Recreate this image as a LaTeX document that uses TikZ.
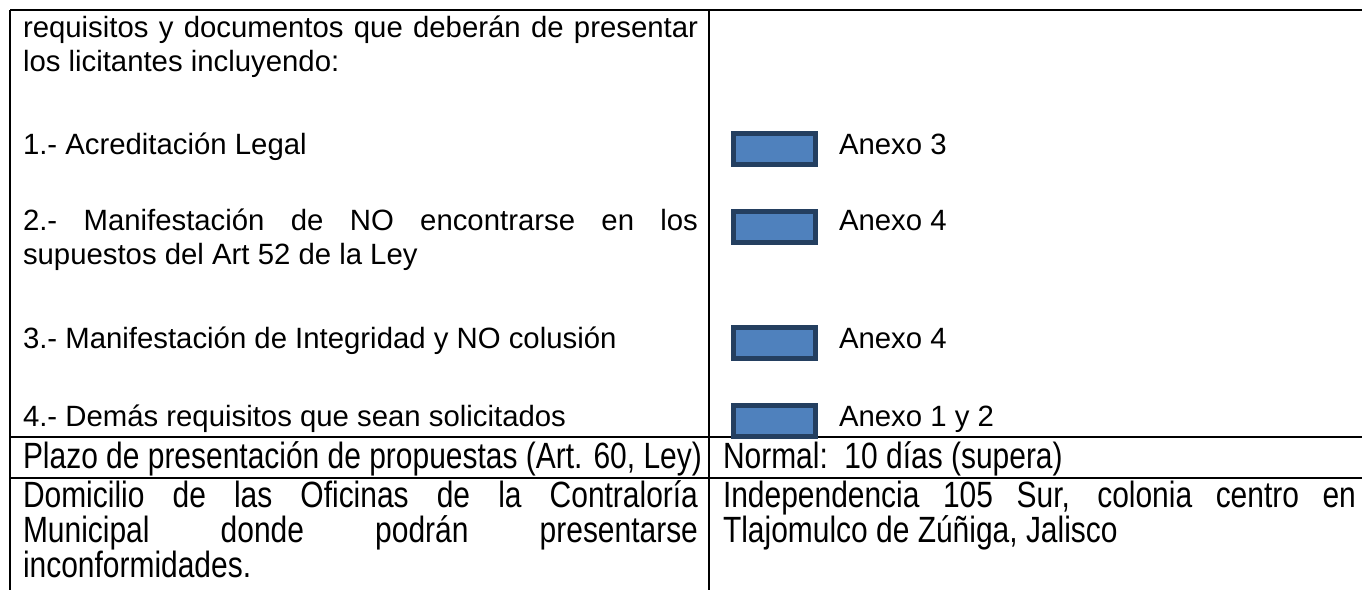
\documentclass[tikz,border=0pt]{standalone}
\usepackage{fontspec}
\setmainfont{Liberation Sans}
\newfontfamily\narrowfont[FakeStretch=0.82]{Liberation Sans}
\definecolor{annexfill}{HTML}{4F81BD}
\definecolor{annexline}{HTML}{243F60}
\tikzset{every picture/.style={line width=1.5pt}}
\tikzset{
  celltext/.style={anchor=base west,inner sep=0pt,font=\fontsize{22}{26}\selectfont},
  narrowtext/.style={anchor=base west,inner sep=0pt,font=\narrowfont\fontsize{27.4}{32}\selectfont},
  annexbox/.style={draw=annexline,fill=annexfill,line width=3.75pt,inner sep=0pt,
    minimum width=61.5pt,minimum height=23.25pt,anchor=north west}
}
\newcommand{\leftjust}[1]{\makebox[506.25pt][s]{#1}}
\newcommand{\rightjust}[1]{\makebox[474.75pt][s]{#1}}

\begin{document}
\begin{tikzpicture}[x=0.75pt,y=0.75pt,yscale=-1,xscale=1]
\useasboundingbox (0,0) rectangle (1362,590);

%Straight Lines
\draw    (10,10) -- (1362,10) ;
\draw    (10,10) -- (10,590) ;
\draw    (709,10) -- (709,590) ;
\draw    (10,437) -- (1362,437) ;
\draw    (10,478) -- (1362,478) ;

% Text Node
\node (req1) [celltext] at (22,37) {\leftjust{requisitos y documentos que deberán de presentar}};
\node (req2) [celltext] at (22,71) {los licitantes incluyendo:};
\node (item1) [celltext] at (22,154) {1.- Acreditación Legal};
\node (item2a) [celltext] at (22,230) {\leftjust{2.- Manifestación de NO encontrarse en los}};
\node (item2b) [celltext] at (22,264) {supuestos del Art 52 de la Ley};
\node (item3) [celltext] at (22,348) {3.- Manifestación de Integridad y NO colusión};
\node (item4) [celltext] at (22,426) {4.- Demás requisitos que sean solicitados};

%Shape: Rectangle
\node (box1) [annexbox] at (730.5,130.5) {};
\node (box2) [annexbox] at (730.5,208.5) {};
\node (box3) [annexbox] at (730.5,324.5) {};
\node (box4) [annexbox] at (730.5,402.5) {};

% Text Node
\node (annex1) [celltext] at (838,154) {Anexo 3};
\node (annex2) [celltext] at (838,230) {Anexo 4};
\node (annex3) [celltext] at (838,348) {Anexo 4};
\node (annex4) [celltext] at (838,426) {Anexo 1 y 2};

% Text Node
\node (plazo) [narrowtext] at (22,468) {Plazo de presentación de propuestas (Art. 60, Ley)};
\node (normal) [narrowtext] at (722,468) {Normal:\ \ 10 días (supera)};
\node (dom1) [narrowtext] at (22,507) {\leftjust{Domicilio de las Oficinas de la Contraloría}};
\node (dom2) [narrowtext] at (22,542) {\leftjust{Municipal donde podrán presentarse}};
\node (dom3) [narrowtext] at (22,577) {inconformidades.};
\node (addr1) [narrowtext] at (722,507) {\rightjust{Independencia 105 Sur, colonia centro en}};
\node (addr2) [narrowtext] at (722,542) {Tlajomulco de Zúñiga, Jalisco};

\end{tikzpicture}
\end{document}
